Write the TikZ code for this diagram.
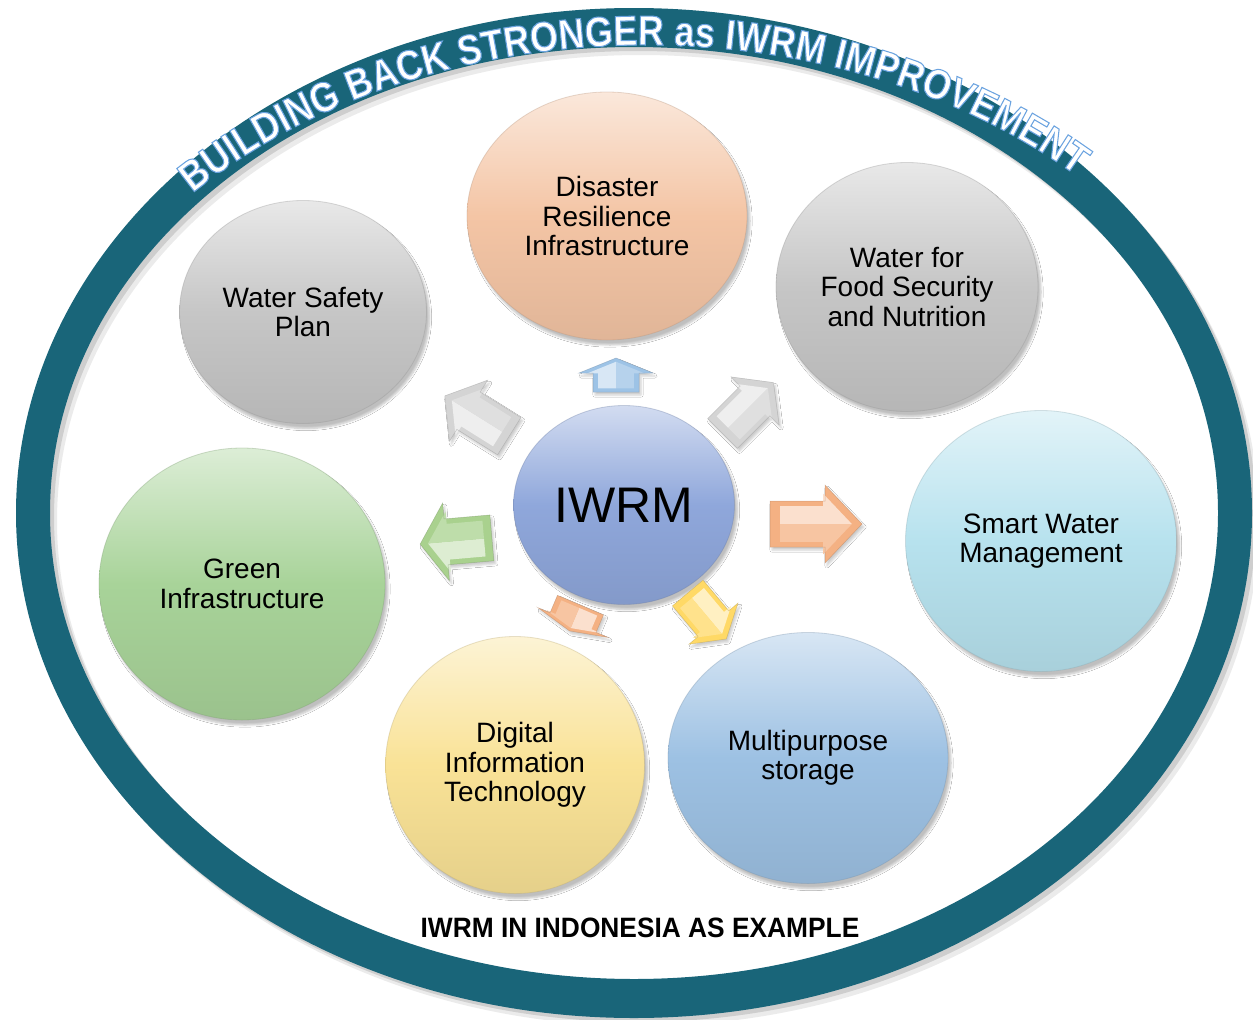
\documentclass[tikz,border=0pt]{standalone}
\usepackage{fontspec}
\setmainfont{Liberation Sans}
\newfontfamily\arcfont[FakeStretch=0.86,FakeBold=2.5]{Liberation Sans}
\newfontfamily\capfont[FakeStretch=0.94]{Liberation Sans}
\usetikzlibrary{shapes.geometric,decorations.text,shadows.blur}

\definecolor{ringc}{RGB}{25,101,121}
\definecolor{cpeach}{RGB}{244,197,165}
\definecolor{cgray}{RGB}{198,198,198}
\definecolor{ccyan}{RGB}{183,226,238}
\definecolor{cblue}{RGB}{157,193,227}
\definecolor{cyellow}{RGB}{249,226,150}
\definecolor{cgreen}{RGB}{168,211,153}
\definecolor{ciwrm}{RGB}{143,167,219}
\definecolor{aBlue}{RGB}{157,195,230}
\definecolor{aGray}{RGB}{212,212,212}
\definecolor{aSalmon}{RGB}{244,177,131}
\definecolor{aGreen}{RGB}{169,209,142}
\definecolor{aYellow}{RGB}{255,217,102}

\tikzset{
  sphere/.style={ellipse, inner sep=0pt, align=center,
    font=\fontsize{28}{29.5}\selectfont, text=black,
    draw=#1!75!black, draw opacity=0.35, line width=0.8pt,
    top color=#1!40!white, bottom color=#1!92!black, middle color=#1,
    blur shadow={shadow xshift=3pt, shadow yshift=-5pt, shadow opacity=25, shadow blur steps=6}},
  arctext/.style={decorate, decoration={text along path,
    text={|\special{pdf:literal direct 1 1 1 rg 0.42 0.64 0.88 RG}\arcfont\bfseries\fontsize{42}{42}\selectfont|BUILDING BACK STRONGER as IWRM IMPROVEMENT},
    text align=center}},
}

\newcommand\blockarr[8]{%
  \begin{scope}[shift={(#1,#2)}, rotate=#3, x=1pt, y=1pt]
    \fill[#8, blur shadow={shadow xshift=2pt, shadow yshift=-3pt, shadow opacity=20, shadow blur steps=4}]
      (-#4,#7) -- (#4-#5,#7) -- (#4-#5,#6) -- (#4,0) -- (#4-#5,-#6) -- (#4-#5,-#7) -- (-#4,-#7) -- cycle;
    \begin{scope}[scale=0.78]
      \fill[#8!40!white] (-#4,#7) -- (#4-#5,#7) -- (#4-#5,#6) -- (#4,0) -- (-#4,0) -- cycle;
      \fill[#8!75!white] (-#4,-#7) -- (#4-#5,-#7) -- (#4-#5,-#6) -- (#4,0) -- (-#4,0) -- cycle;
    \end{scope}
    \draw[#8!70!black, line width=0.5pt, opacity=0.45]
      (-#4,#7) -- (#4-#5,#7) -- (#4-#5,#6) -- (#4,0) -- (#4-#5,-#6) -- (#4-#5,-#7) -- (-#4,-#7) -- cycle;
  \end{scope}}

\begin{document}
\begin{tikzpicture}[x=1pt, y=-1pt]
\useasboundingbox (0,0) rectangle (1253,1020);
\clip (0,0) rectangle (1253,1020);
\fill[white] (0,0) rectangle (1253,1020);

% ring shadow
\fill[black, opacity=0.08, even odd rule] (641,521) ellipse [x radius=618, y radius=505] (641,521) ellipse [x radius=584, y radius=466];
\fill[black, opacity=0.12, even odd rule] (638,517) ellipse [x radius=618, y radius=505] (638,517) ellipse [x radius=584, y radius=466];
% ring
\fill[ringc, even odd rule] (634,513) ellipse [x radius=618, y radius=505] (634,513) ellipse [x radius=584, y radius=466];

% spheres
\node[sphere=cpeach, minimum width=280pt, minimum height=248pt] (dri) at (607,216) {Disaster\\Resilience\\Infrastructure};
\node[sphere=cgray, minimum width=262pt, minimum height=249pt] (wfs) at (907,287) {Water for\\Food Security\\and Nutrition};
\node[sphere=ccyan, minimum width=271pt, minimum height=261pt] (swm) at (1041,541) {Smart Water\\Management};
\node[sphere=cblue, minimum width=280pt, minimum height=251pt] (mps) at (808,758) {Multipurpose\\storage};
\node[sphere=cyellow, minimum width=259pt, minimum height=257pt] (dit) at (515,765) {Digital\\Information\\Technology};
\node[sphere=cgreen, minimum width=286pt, minimum height=272pt] (gi) at (242,584) {Green\\Infrastructure};
\node[sphere=cgray, minimum width=247pt, minimum height=223pt] (wsp) at (303,312) {Water Safety\\Plan};
\node[sphere=ciwrm, minimum width=221pt, minimum height=199pt, font=\fontsize{50}{52}\selectfont] (iwrm) at (624,505) {IWRM};

% block arrows
\blockarr{616}{375}{90}{17}{15}{37}{23}{aBlue}
\blockarr{477}{416}{148}{38}{28}{36}{22}{aGray}
\blockarr{748}{408}{45}{36}{26}{34}{21}{aGray}
\blockarr{816}{524}{0}{46}{37}{39}{23}{aSalmon}
\blockarr{456}{541}{185}{36}{26}{39}{23}{aGreen}
\blockarr{575}{618}{247}{14}{9}{38}{25}{aSalmon}
\blockarr{707}{616}{-50}{30}{20}{32}{20}{aYellow}

% caption
\node[font=\capfont\bfseries\fontsize{28}{30}\selectfont] (cap) at (640,928) {IWRM IN INDONESIA AS EXAMPLE};

% curved title (white fill, blue outline), drawn last
\path[arctext] (646,520) ++(-138:625 and 475) arc[start angle=-138, end angle=-45, x radius=625, y radius=475];
\end{tikzpicture}
\end{document}
